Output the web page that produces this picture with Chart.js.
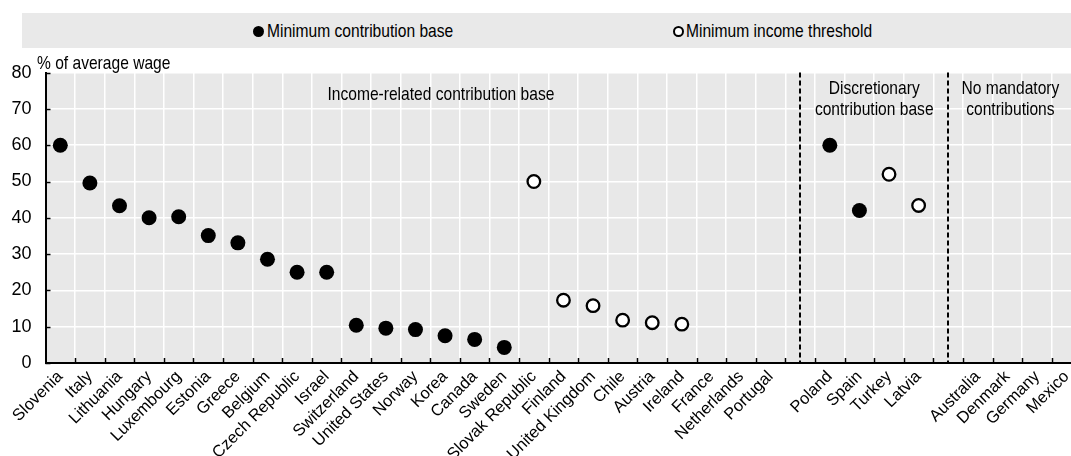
<!DOCTYPE html>
<html>
<head>
<meta charset="utf-8">
<script src="https://cdn.jsdelivr.net/npm/chart.js@4.4.1/dist/chart.umd.min.js"></script>
<style>
    html, body { margin: 0; padding: 0; background: #fff; overflow: hidden; }
    #wrap { position: relative; width: 1071px; height: 456px; overflow: hidden; }
    #chart { position: absolute; left: 0; top: 0; }
    #legend {
        position: absolute; left: 22px; top: 13px; width: 1060px; height: 35px;
        background: #e9e9e9;
        font: 19px "Liberation Sans", Arial, sans-serif;
        color: #000;
    }
    /* narrow look: squeeze the regular face horizontally */
    .item { position: absolute; top: 0; height: 35px; line-height: 35px; white-space: nowrap;
            transform: scaleX(0.82); transform-origin: 0 50%; }
    .dot { position: absolute; top: 13px; width: 11px; height: 11px; border-radius: 50%; box-sizing: border-box; }
    .filled { background: #000; }
    .hollow { background: #fff; border: 2px solid #000; }
    #unit {
        position: absolute; left: 37px; top: 52px; white-space: nowrap;
        font: 19px "Liberation Sans", Arial, sans-serif;
        transform: scaleX(0.82); transform-origin: 0 50%;
    }
</style>
</head>
<body>
<div id="wrap">
    <canvas id="chart" width="1090" height="456"></canvas>
    <div id="legend">
        <div class="dot filled" style="left:231px"></div>
        <div class="item" style="left:245px">Minimum contribution base</div>
        <div class="dot hollow" style="left:651px"></div>
        <div class="item" style="left:664px">Minimum income threshold</div>
    </div>
    <div id="unit">% of average wage</div>
</div>
<script>
const FONT = '"Liberation Sans", Arial, sans-serif';

// categories ('' = spacer between groups)
const countries = ['Slovenia', 'Italy', 'Lithuania', 'Hungary', 'Luxembourg', 'Estonia', 'Greece', 'Belgium',
    'Czech Republic', 'Israel', 'Switzerland', 'United States', 'Norway', 'Korea', 'Canada', 'Sweden',
    'Slovak Republic', 'Finland', 'United Kingdom', 'Chile', 'Austria', 'Ireland', 'France', 'Netherlands', 'Portugal',
    '', 'Poland', 'Spain', 'Turkey', 'Latvia',
    '', 'Australia', 'Denmark', 'Germany', 'Mexico'];

const minContributionBase = [60, 49.6, 43.3, 40, 40.3, 35.1, 33.1, 28.6, 25, 25, 10.4, 9.6, 9.2, 7.5, 6.5, 4.3,
    null, null, null, null, null, null, null, null, null,
    null, 60, 42, null, null,
    null, null, null, null, null];

const minIncomeThreshold = [null, null, null, null, null, null, null, null, null, null, null, null, null, null, null, null,
    50, 17.3, 15.8, 11.8, 11.1, 10.7, null, null, null,
    null, null, null, 52, 43.4,
    null, null, null, null, null];

const yTicks = [0, 10, 20, 30, 40, 50, 60, 70, 80];

const groupTitles = [
    ['Income-related contribution base'],
    ['Discretionary', 'contribution base'],
    ['No mandatory', 'contributions']
];

// spacer positions split the groups
const spacers = countries.map((c, i) => c === '' ? i : -1).filter(i => i >= 0);

const decorPlugin = {
    id: 'decor',
    beforeDraw(chart) {
        const { ctx, chartArea: a } = chart;
        ctx.save();
        ctx.fillStyle = '#e8e8e8';
        ctx.fillRect(a.left, a.top, a.right - a.left, a.bottom - a.top);
        ctx.restore();
    },
    beforeDatasetsDraw(chart) {
        const { ctx, chartArea: a, scales } = chart;
        const x = scales.x, y = scales.y;
        ctx.save();
        // inward ticks on x axis (category boundaries)
        ctx.strokeStyle = '#000';
        ctx.lineWidth = 1.5;
        for (let i = 1; i <= countries.length; i++) {
            const px = Math.round(x.getPixelForValue(i - 0.5)) + 0.5;
            ctx.beginPath();
            ctx.moveTo(px, a.bottom);
            ctx.lineTo(px, a.bottom - 5);
            ctx.stroke();
        }
        // inward ticks on y axis
        yTicks.forEach(v => {
            const py = Math.round(y.getPixelForValue(v)) + 0.5;
            ctx.beginPath();
            ctx.moveTo(a.left, py);
            ctx.lineTo(a.left + 5, py);
            ctx.stroke();
        });
        // dashed group dividers
        ctx.lineWidth = 2;
        ctx.setLineDash([5, 3]);
        spacers.forEach(i => {
            const px = Math.round(x.getPixelForValue(i));
            ctx.beginPath();
            ctx.moveTo(px, a.top);
            ctx.lineTo(px, a.bottom);
            ctx.stroke();
        });
        ctx.setLineDash([]);
        // group titles, squeezed like a narrow face
        ctx.fillStyle = '#000';
        ctx.font = '19px ' + FONT;
        ctx.textAlign = 'center';
        ctx.textBaseline = 'middle';
        const centers = [12.86, 27.5, 32.1];
        groupTitles.forEach((lines, g) => {
            const cx = x.getPixelForValue(centers[g]);
            const top = lines.length === 1 ? y.getPixelForValue(73.8) : y.getPixelForValue(75.6);
            lines.forEach((t, k) => {
                ctx.save();
                ctx.translate(cx, top + k * 21);
                ctx.scale(0.82, 1);
                ctx.fillText(t, 0, 0);
                ctx.restore();
            });
        });
        ctx.restore();
    }
};

new Chart(document.getElementById('chart'), {
    type: 'line',
    data: {
        labels: countries,
        datasets: [{
            label: 'Minimum contribution base',
            data: minContributionBase,
            showLine: false,
            pointRadius: 7.5,
            pointHoverRadius: 7.5,
            pointBackgroundColor: '#000',
            pointBorderColor: '#000',
            pointBorderWidth: 0
        }, {
            label: 'Minimum income threshold',
            data: minIncomeThreshold,
            showLine: false,
            pointRadius: 6.3,
            pointHoverRadius: 6.3,
            pointBackgroundColor: '#fff',
            pointBorderColor: '#000',
            pointBorderWidth: 2.3
        }]
    },
    options: {
        responsive: false,
        animation: false,
        devicePixelRatio: 1,
        layout: { padding: { top: 72.6, right: 8.5, left: 0, bottom: 0 } },
        plugins: { legend: { display: false }, tooltip: { enabled: false } },
        scales: {
            x: {
                type: 'category',
                offset: true,
                grid: { offset: true, color: '#fff', lineWidth: 1.5, drawTicks: false },
                border: { display: true, color: '#000', width: 2 },
                ticks: {
                    autoSkip: false, minRotation: 45, maxRotation: 45, padding: 4,
                    color: '#000', font: { family: FONT, size: 16.5 }
                },
                afterFit(scale) { scale.height = 93; }
            },
            y: {
                min: 0, max: 80,
                grid: { color: '#fff', lineWidth: 1.5, drawTicks: false },
                border: { display: true, color: '#000', width: 2 },
                ticks: {
                    stepSize: 10, padding: 14,
                    color: '#000', font: { family: FONT, size: 18 }
                },
                afterFit(scale) { scale.width = 45.5; }
            }
        }
    },
    plugins: [decorPlugin]
});
</script>
</body>
</html>
